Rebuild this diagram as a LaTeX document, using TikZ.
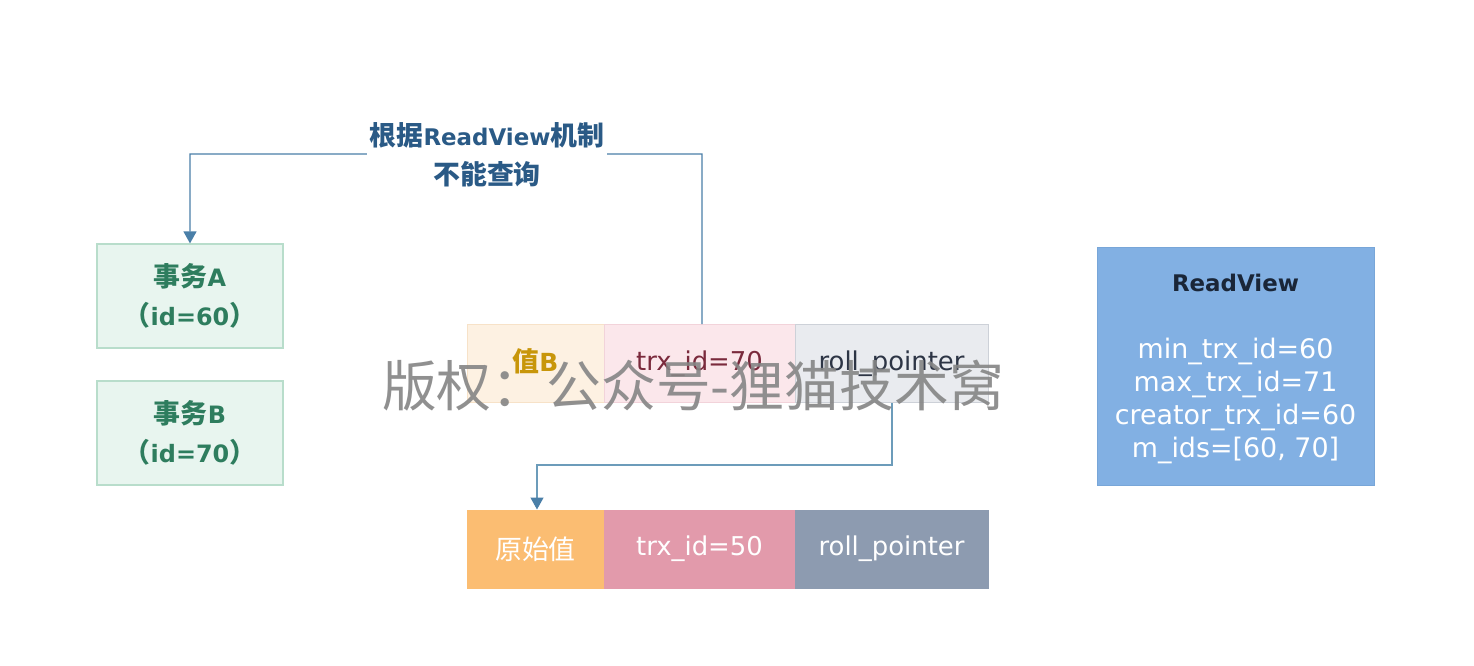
\documentclass[tikz,border=0pt]{standalone}
\usepackage{fontspec}
\setmainfont{DejaVu Sans}
\newfontfamily\cjk{Noto Sans CJK SC}
\newcommand\zh[2]{{\cjk\fontsize{#1}{#1}\selectfont #2}}
\usetikzlibrary{arrows.meta}
\definecolor{txgreenfill}{HTML}{E8F5EF}
\definecolor{txgreenline}{HTML}{B8DDCB}
\definecolor{txgreentext}{HTML}{2E7D5E}
\definecolor{lorange}{HTML}{FDF1E2}
\definecolor{lorangeline}{HTML}{F7E2C8}
\definecolor{lpink}{HTML}{FBE7EB}
\definecolor{lpinkline}{HTML}{F2D3DA}
\definecolor{lgray}{HTML}{E9EBEF}
\definecolor{lgrayline}{HTML}{CDD1D8}
\definecolor{dorange}{HTML}{FBBD72}
\definecolor{dpink}{HTML}{E29AAB}
\definecolor{dgray}{HTML}{8D9BB0}
\definecolor{rvfill}{HTML}{82B0E3}
\definecolor{rvline}{HTML}{78A6D8}
\definecolor{arrowblue}{HTML}{4A7FA8}
\definecolor{arrowlight}{HTML}{6C9CBA}
\definecolor{labelblue}{HTML}{2A5A86}
\definecolor{ytext}{HTML}{C8960A}
\definecolor{rtext}{HTML}{7A2A3C}
\definecolor{gtext}{HTML}{2D3545}
\definecolor{rvtitle}{HTML}{1A2638}
\definecolor{wmgray}{HTML}{858585}
\tikzset{
  txbox/.style={draw=txgreenline, line width=1.2bp, fill=txgreenfill, text=txgreentext,
    font=\bfseries\fontsize{24}{39}\selectfont, align=center,
    minimum width=186bp, minimum height=104bp, inner sep=0pt},
  cell/.style={line width=1bp, minimum height=78bp, inner sep=0pt,
    font=\fontsize{26}{28}\selectfont},
}
\begin{document}
\begin{tikzpicture}[x=1bp,y=-1bp]
\useasboundingbox (0,0) rectangle (1474,666);
\fill[white] (0,0) rectangle (1474,666);
% transactions
\node[txbox] (ta) at (190,296) {\zh{27}{事务}A\\\zh{27}{（}id=60\zh{27}{）}};
\node[txbox] (tb) at (190,433) {\zh{27}{事务}B\\\zh{27}{（}id=70\zh{27}{）}};
% top row
\node[cell, draw=lorangeline, fill=lorange, minimum width=137bp] (vb) at (535.5,363.5) {};
\node[cell, draw=lpinkline, fill=lpink, minimum width=191bp] (t70) at (699.5,363.5) {};
\node[cell, draw=lgrayline, fill=lgray, minimum width=193bp] (rp1) at (891.5,363.5) {};
\node[text=ytext, font=\bfseries\fontsize{25}{28}\selectfont] (vbt) at (vb.center) [yshift=2bp] {\zh{27}{值}B};
\node[text=rtext, font=\fontsize{26}{28}\selectfont] (t70t) at (t70.center) {trx\_id=70};
\node[text=gtext, font=\fontsize{26}{28}\selectfont] (rp1t) at (rp1.center) {roll\_pointer};
% bottom row
\node[cell, draw=dorange, fill=dorange, text=white, minimum width=137bp] (orig) at (535.5,549) {\zh{27}{原始值}};
\node[cell, draw=dpink, fill=dpink, text=white, minimum width=191bp] (t50) at (699.5,549) {trx\_id=50};
\node[cell, draw=dgray, fill=dgray, text=white, minimum width=193bp] (rp2) at (891.5,549) {roll\_pointer};
% readview
\node[draw=rvline, fill=rvfill, minimum width=277bp, minimum height=238bp, inner sep=0pt] (rv) at (1235.5,366) {};
\node[text=rvtitle, font=\bfseries\fontsize{23}{28}\selectfont] (rvt) at (1235.5,283) {ReadView};
\node[text=white, font=\fontsize{27}{33}\selectfont, align=center] (rvl) at (1235.5,401) {min\_trx\_id=60\\max\_trx\_id=71\\creator\_trx\_id=60\\m\_ids=[60, 70]};
% connectors
\coordinate (c1) at (702,154);
\coordinate (c2) at (190,154);
\draw[line width=1.3bp, draw=arrowblue, -{Triangle[length=12bp,width=13bp]}] ([xshift=2.5bp]t70.north) -- (c1) -- (c2) -- (ta.north);
\node[fill=white, text=labelblue, font=\bfseries\fontsize{23}{39}\selectfont, align=center, inner xsep=3pt, inner ysep=0pt] (lbl) at (487,155) {\zh{27}{根据}ReadView\zh{27}{机制}\\\zh{27}{不能查询}};
\coordinate (d1) at (892,465);
\coordinate (d2) at (537,465);
\draw[line width=1.3bp, draw=arrowlight, -{Triangle[length=12bp,width=13bp,color=arrowblue]}] (rp1.south -| d1) -- (d1) -- (d2) -- (d2 |- orig.north);
% watermark
\node[text=wmgray, opacity=0.9, font=\cjk\fontsize{55}{58}\selectfont] (wm) at (693,386) {版权：公众号-狸猫技术窝};
\end{tikzpicture}
\end{document}
